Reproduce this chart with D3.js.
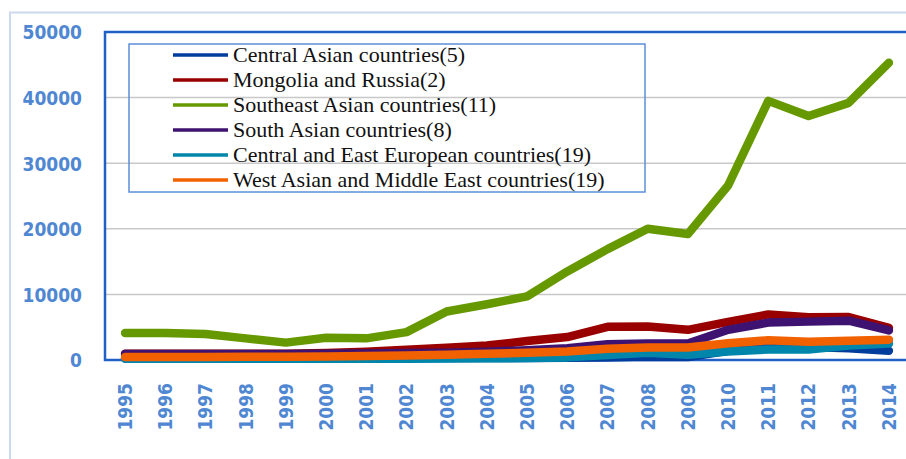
<!DOCTYPE html>
<html>
<head>
<meta charset="utf-8">
<script src="https://cdn.jsdelivr.net/npm/d3@7"></script>
<style>
html,body{margin:0;padding:0;background:#fff;overflow:hidden;}
svg{display:block;}
.legtext{font-family:"Liberation Serif","Times New Roman","DejaVu Serif",serif;font-size:22px;fill:#111;}
</style>
</head>
<body>
<svg id="chart" width="906" height="459"></svg>
<script>
const years = ["1995","1996","1997","1998","1999","2000","2001","2002","2003","2004","2005","2006","2007","2008","2009","2010","2011","2012","2013","2014"];
const yTicks = [0,10000,20000,30000,40000,50000];
const seriesNames = ["Central Asian countries(5)","Mongolia and Russia(2)","Southeast Asian countries(11)","South Asian countries(8)","Central and East European countries(19)","West Asian and Middle East countries(19)"];
const centralAsian = [250,250,250,250,250,250,250,300,300,300,300,350,400,500,450,1400,2000,2000,1800,1400];
const mongoliaRussia = [950,950,950,950,950,1050,1250,1550,1850,2200,2900,3500,5050,5100,4600,5800,6950,6500,6550,4900];
const southeastAsian = [4100,4100,3950,3300,2650,3400,3300,4250,7400,8500,9700,13500,16900,20000,19200,26600,39500,37200,39200,45300];
const southAsian = [900,900,900,900,900,950,1000,1050,1100,1250,1500,1800,2400,2500,2500,4600,5700,5850,6000,4500];
const centralEastEuropean = [200,200,200,200,200,200,200,200,220,250,300,400,750,1100,800,1300,1600,1600,2200,2500];
const westAsianMiddleEast = [450,450,450,500,500,550,600,700,800,950,1100,1300,1700,1900,1900,2550,3000,2800,2950,3100];
const seriesValues = [centralAsian, mongoliaRussia, southeastAsian, southAsian, centralEastEuropean, westAsianMiddleEast];
const colors = ["#003d9c","#990000","#669900","#3e1270","#0086ab","#f26100"];

(function(){
const svg = d3.select("#chart");
const pl = 105, pr = 909, pt = 32, pb = 360;

// outer frame
svg.append("rect").attr("x",10).attr("y",12.5).attr("width",1000).attr("height",600)
  .attr("fill","none").attr("stroke","#cbdaee").attr("stroke-width",2);

const x = d3.scaleBand().domain(years).range([pl,pr]).padding(0);
const y = d3.scaleLinear().domain([0,50000]).range([pb,pt]);
const cx = d => x(d) + x.bandwidth()/2;

// gridlines
svg.append("g").selectAll("line").data(yTicks.filter(t=>t>0 && t<50000)).join("line")
  .attr("x1",pl).attr("x2",pr).attr("y1",d=>y(d)).attr("y2",d=>y(d))
  .attr("stroke","#c8c8c8").attr("stroke-width",1.5);

// plot border
svg.append("rect").attr("x",pl).attr("y",pt).attr("width",pr-pl).attr("height",pb-pt)
  .attr("fill","none").attr("stroke","#1f5fc6").attr("stroke-width",2.5);

// y axis labels
const yAxis = d3.axisLeft(y).tickValues(yTicks).tickSize(0).tickPadding(0).tickFormat(d3.format("d"));
const yg = svg.append("g").attr("transform",`translate(82,0)`).call(yAxis);
yg.select(".domain").remove();
yg.selectAll("text").attr("font-family","'DejaVu Sans Condensed','DejaVu Sans'").attr("font-weight","bold")
  .attr("font-size",19).attr("fill","#4f87d2").attr("dy","0.36em");

// x axis labels
const xAxis = d3.axisBottom(x).tickSize(0).tickPadding(0);
const xg = svg.append("g").attr("transform",`translate(0,383)`).call(xAxis);
xg.select(".domain").remove();
xg.selectAll("text").attr("font-family","'DejaVu Sans Condensed','DejaVu Sans'").attr("font-weight","bold")
  .attr("font-size",19).attr("fill","#4f87d2")
  .attr("transform","rotate(-90)").attr("text-anchor","end").attr("x",0).attr("y",0).attr("dy","0.36em");

// lines
const line = d3.line().x((d,i)=>cx(years[i])).y(d=>y(d));
svg.append("g").selectAll("path").data(seriesValues).join("path")
  .attr("d",d=>line(d)).attr("fill","none").attr("stroke",(d,i)=>colors[i])
  .attr("stroke-width",8.5).attr("stroke-linejoin","round").attr("stroke-linecap","round");

// legend
const lg = svg.append("g");
lg.append("rect").attr("x",129).attr("y",44).attr("width",516).attr("height",148)
  .attr("fill","none").attr("stroke","#5b90d8").attr("stroke-width",1.5);
const items = lg.selectAll("g.item").data(seriesNames).join("g").attr("class","item")
  .attr("transform",(d,i)=>`translate(0,${55+i*25})`);
items.append("line").attr("x1",173).attr("x2",228).attr("y1",0).attr("y2",0)
  .attr("stroke",(d,i)=>colors[i]).attr("stroke-width",3.5);
items.append("text").attr("class","legtext").attr("x",233).attr("y",0).attr("dy","0.34em")
  .text(d=>d);
})();
</script>
</body>
</html>
